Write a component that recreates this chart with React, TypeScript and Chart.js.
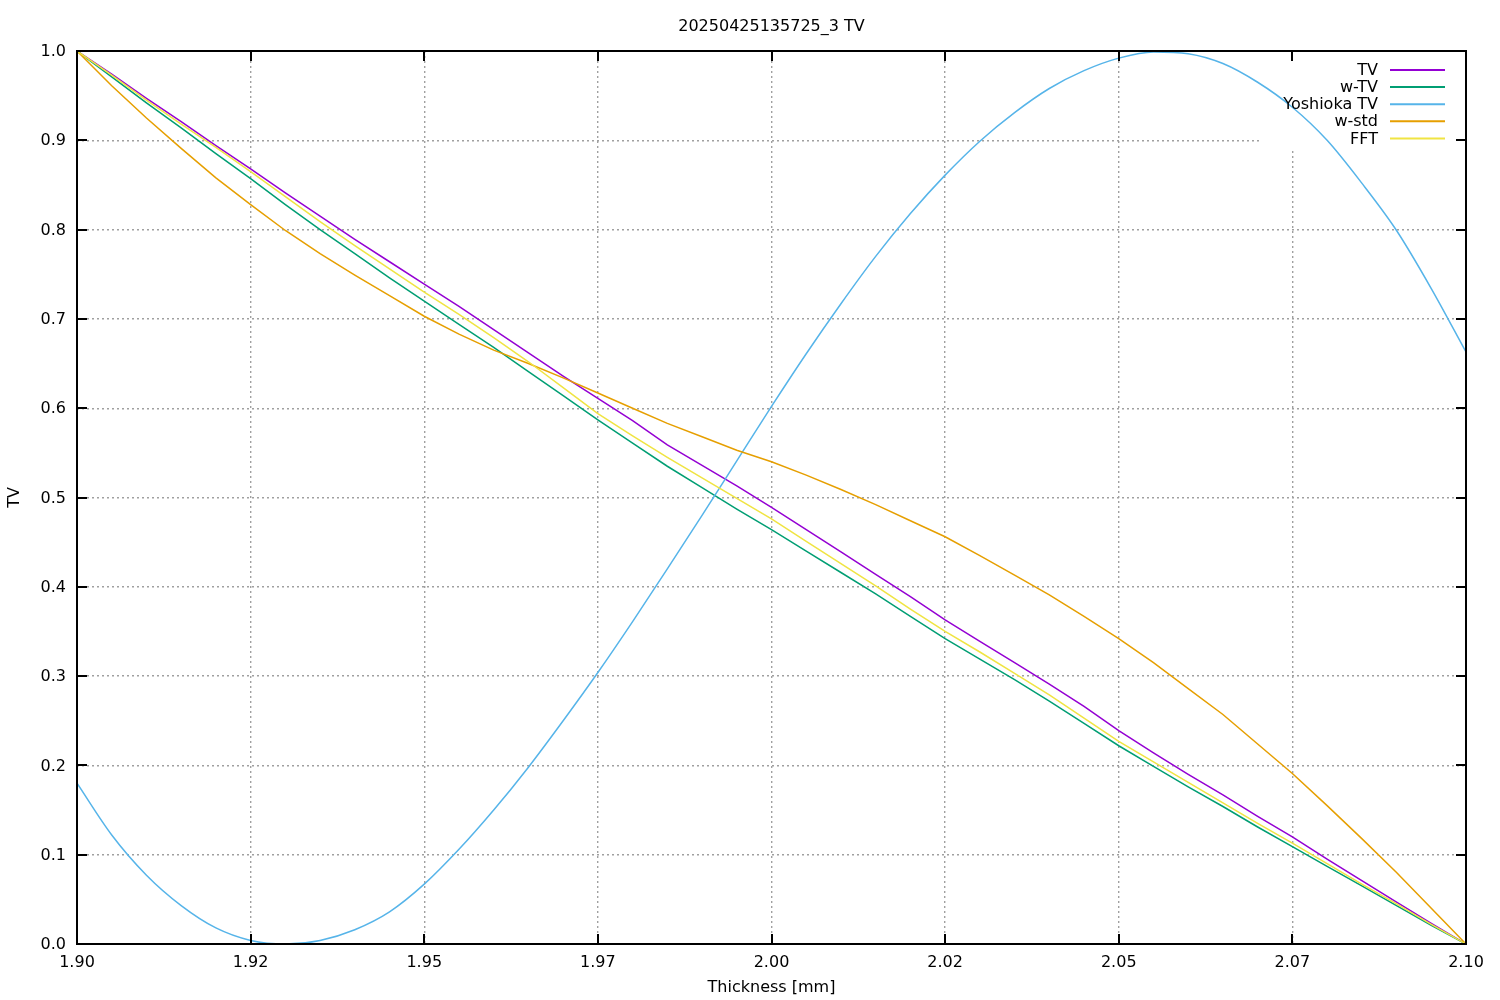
import React, { useEffect, useRef } from "react";
import { Chart, registerables } from "chart.js";

Chart.register(...registerables);

const chartTitle = "20250425135725_3 TV";
const xAxisTitle = "Thickness [mm]";
const yAxisTitle = "TV";

const thickness = [
  1.900, 1.905, 1.910, 1.915, 1.920, 1.925, 1.930, 1.935, 1.940, 1.945,
  1.950, 1.955, 1.960, 1.965, 1.970, 1.975, 1.980, 1.985, 1.990, 1.995,
  2.000, 2.005, 2.010, 2.015, 2.020, 2.025, 2.030, 2.035, 2.040, 2.045,
  2.050, 2.055, 2.060, 2.065, 2.070, 2.075, 2.080, 2.085, 2.090, 2.095,
  2.100,
];

const tv = [
  1.000, 0.974, 0.947, 0.921, 0.894, 0.868, 0.841, 0.815, 0.789, 0.764,
  0.739, 0.714, 0.688, 0.662, 0.636, 0.611, 0.586, 0.559, 0.536, 0.513,
  0.489, 0.464, 0.439, 0.414, 0.389, 0.363, 0.339, 0.315, 0.291, 0.266,
  0.239, 0.214, 0.190, 0.167, 0.143, 0.120, 0.095, 0.071, 0.047, 0.023,
  0.000,
];

const wTv = [
  1.000, 0.971, 0.942, 0.914, 0.885, 0.857, 0.828, 0.800, 0.773, 0.746,
  0.720, 0.694, 0.668, 0.641, 0.614, 0.587, 0.561, 0.535, 0.511, 0.487,
  0.464, 0.440, 0.416, 0.392, 0.367, 0.342, 0.319, 0.296, 0.272, 0.247,
  0.222, 0.199, 0.176, 0.154, 0.131, 0.109, 0.087, 0.065, 0.043, 0.021,
  0.000,
];

const yoshiokaTv = [
  0.180, 0.122, 0.077, 0.043, 0.018, 0.004, 0.000, 0.004, 0.016, 0.036,
  0.067, 0.106, 0.150, 0.198, 0.250, 0.304, 0.361, 0.420, 0.480, 0.541,
  0.602, 0.661, 0.717, 0.770, 0.818, 0.861, 0.899, 0.931, 0.958, 0.978,
  0.992, 0.999, 0.997, 0.986, 0.965, 0.937, 0.900, 0.852, 0.799, 0.734,
  0.663,
];

const wStd = [
  1.000, 0.961, 0.925, 0.891, 0.858, 0.828, 0.799, 0.773, 0.749, 0.726,
  0.703, 0.683, 0.665, 0.650, 0.634, 0.617, 0.600, 0.583, 0.568, 0.553,
  0.540, 0.525, 0.509, 0.492, 0.474, 0.456, 0.435, 0.413, 0.391, 0.367,
  0.342, 0.315, 0.286, 0.257, 0.224, 0.191, 0.155, 0.118, 0.080, 0.040,
  0.000,
];

const fft = [
  1.000, 0.973, 0.945, 0.918, 0.892, 0.865, 0.837, 0.809, 0.782, 0.756,
  0.730, 0.705, 0.679, 0.652, 0.623, 0.594, 0.569, 0.545, 0.522, 0.499,
  0.476, 0.451, 0.426, 0.401, 0.375, 0.350, 0.327, 0.303, 0.279, 0.253,
  0.227, 0.204, 0.181, 0.158, 0.135, 0.113, 0.090, 0.067, 0.045, 0.022,
  0.000,
];

const xTickValues = [1.9, 1.925, 1.95, 1.975, 2.0, 2.025, 2.05, 2.075, 2.1];
const xTickLabels = ["1.90", "1.92", "1.95", "1.97", "2.00", "2.02", "2.05", "2.07", "2.10"];
const yTickValues = [0, 0.1, 0.2, 0.3, 0.4, 0.5, 0.6, 0.7, 0.8, 0.9, 1.0];
const yTickLabels = ["0.0", "0.1", "0.2", "0.3", "0.4", "0.5", "0.6", "0.7", "0.8", "0.9", "1.0"];

const seriesNames = ["TV", "w-TV", "Yoshioka TV", "w-std", "FFT"];
const seriesColors = ["#9400d3", "#009e73", "#56b4e9", "#e69f00", "#f0e442"];
const seriesValues = [tv, wTv, yoshiokaTv, wStd, fft];

const FONT = "'DejaVu Sans', sans-serif";
const FONT_SIZE = 16;

const framePlugin = {
  id: "gnuplotFrame",
  beforeDatasetsDraw(chart: any) {
    const { ctx, chartArea: a } = chart;
    // key area: grid is not drawn behind the key
    ctx.save();
    ctx.fillStyle = "#ffffff";
    ctx.fillRect(a.right - 207, a.top + 1, 206, 96);
    ctx.restore();
  },
  afterDatasetsDraw(chart: any) {
    const { ctx, chartArea: a, scales } = chart;
    const xs = scales.x;
    const ys = scales.y;
    ctx.save();
    ctx.strokeStyle = "#000000";
    ctx.lineWidth = 2;
    ctx.setLineDash([]);
    const tl = 10;
    ctx.beginPath();
    yTickValues.forEach((v) => {
      const y = Math.round(ys.getPixelForValue(v));
      ctx.moveTo(a.left, y);
      ctx.lineTo(a.left + tl, y);
      ctx.moveTo(a.right, y);
      ctx.lineTo(a.right - tl, y);
    });
    xTickValues.forEach((v) => {
      const x = Math.round(xs.getPixelForValue(v));
      ctx.moveTo(x, a.bottom);
      ctx.lineTo(x, a.bottom - tl);
      ctx.moveTo(x, a.top);
      ctx.lineTo(x, a.top + tl);
    });
    ctx.stroke();
    ctx.strokeRect(a.left, a.top, a.right - a.left, a.bottom - a.top);

    // key
    ctx.font = `${FONT_SIZE}px ${FONT}`;
    ctx.textAlign = "right";
    ctx.textBaseline = "middle";
    chart.data.datasets.forEach((ds: any, i: number) => {
      const y = a.top + 19 + i * 17.1;
      ctx.fillStyle = "#000000";
      ctx.fillText(ds.label, a.right - 88, y + 1);
      ctx.strokeStyle = ds.borderColor;
      ctx.lineWidth = 2;
      ctx.beginPath();
      ctx.moveTo(a.right - 76, y);
      ctx.lineTo(a.right - 21, y);
      ctx.stroke();
    });
    ctx.restore();
  },
};

export default function App() {
  const canvasRef = useRef<HTMLCanvasElement | null>(null);

  useEffect(() => {
    const canvas = canvasRef.current;
    if (!canvas) return;
    const datasets = seriesNames.map((name, i) => ({
      label: name,
      data: thickness.map((x, j) => ({ x, y: seriesValues[i][j] })),
      borderColor: seriesColors[i],
      backgroundColor: seriesColors[i],
      borderWidth: 1.5,
      pointRadius: 0,
      fill: false,
      tension: 0,
      cubicInterpolationMode: i === 2 ? "monotone" : "default",
      order: seriesNames.length - 1 - i,
    }));

    const chart = new Chart(canvas, {
      type: "line",
      data: { datasets } as any,
      plugins: [framePlugin],
      options: {
        animation: false,
        responsive: false,
        devicePixelRatio: 1,
        layout: { padding: { left: 0, right: 34, top: 0, bottom: 0 } },
        plugins: {
          legend: { display: false },
          tooltip: { enabled: false },
          title: {
            display: true,
            text: chartTitle,
            fullSize: false,
            color: "#000000",
            font: { family: FONT, size: FONT_SIZE, weight: "normal", lineHeight: 1.2 },
            padding: { top: 17.4, bottom: 14.4 },
          },
        },
        scales: {
          x: {
            type: "linear",
            min: 1.9,
            max: 2.1,
            afterBuildTicks: (scale: any) => {
              scale.ticks = xTickValues.map((v) => ({ value: v }));
            },
            afterFit: (scale: any) => {
              scale.height = 56;
            },
            ticks: {
              autoSkip: false,
              maxRotation: 0,
              color: "#000000",
              padding: 9.5,
              font: { family: FONT, size: FONT_SIZE },
              callback: (_v: any, idx: number) => xTickLabels[idx],
            },
            grid: {
              color: "#a0a0a0",
              lineWidth: 1.4,
              drawTicks: false,
              tickLength: 0,
            },
            border: { display: false, dash: [2, 3] },
            title: {
              display: true,
              text: xAxisTitle,
              color: "#000000",
              font: { family: FONT, size: FONT_SIZE, lineHeight: 1.2 },
              padding: { top: 0, bottom: 2.5 },
            },
          },
          y: {
            type: "linear",
            min: 0,
            max: 1,
            afterBuildTicks: (scale: any) => {
              scale.ticks = yTickValues.map((v) => ({ value: v }));
            },
            afterFit: (scale: any) => {
              scale.width = 77;
            },
            ticks: {
              autoSkip: false,
              color: "#000000",
              padding: 11,
              labelOffset: 1,
              font: { family: FONT, size: FONT_SIZE },
              callback: (_v: any, idx: number) => yTickLabels[idx],
            },
            grid: {
              color: "#a0a0a0",
              lineWidth: 1.4,
              drawTicks: false,
              tickLength: 0,
            },
            border: { display: false, dash: [2, 3] },
            title: {
              display: true,
              text: yAxisTitle,
              color: "#000000",
              font: { family: FONT, size: FONT_SIZE, lineHeight: 1.2 },
              padding: { top: 5.4, bottom: 0 },
            },
          },
        },
      } as any,
    });
    return () => chart.destroy();
  }, []);

  return (
    <div style={{ position: "absolute", left: 0, top: 0, width: 1500, height: 1000, background: "#ffffff" }}>
      <canvas ref={canvasRef} width={1500} height={1000} style={{ display: "block", width: 1500, height: 1000 }} />
    </div>
  );
}
